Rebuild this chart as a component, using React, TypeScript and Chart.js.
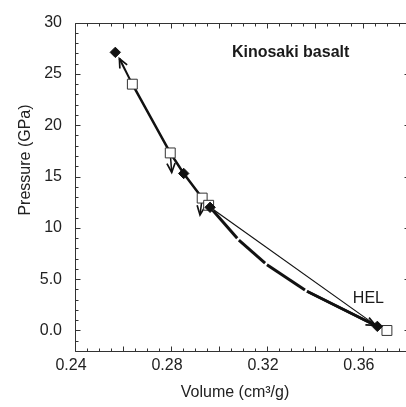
import React, { useEffect, useRef } from "react";
import { Chart, registerables } from "chart.js";

Chart.register(...registerables);

// Markers
const diamondV = [0.2568, 0.2853, 0.2963, 0.366];
const diamondP = [27.1, 15.3, 12.0, 0.4];
const squareV = [0.2639, 0.2797, 0.293, 0.2957, 0.37];
const squareP = [24.0, 17.3, 12.9, 12.2, 0.0];

// Thick solid path
const pathV = [0.2639, 0.2797, 0.2853, 0.293];
const pathP = [24.0, 17.3, 15.3, 12.9];

// Thick broken curve (release path)
const curveV = [0.2963, 0.3083, 0.32, 0.3367, 0.366];
const curveP = [12.0, 8.8, 6.4, 3.82, 0.4];

// Thin straight line
const thinV = [0.2963, 0.366];
const thinP = [12.0, 0.4];

// Arrows
const arrowFromV = [0.2639, 0.2797, 0.293, 0.3367];
const arrowFromP = [24.0, 17.3, 12.9, 3.82];
const arrowToV = [0.2585, 0.2803, 0.2921, 0.3652];
const arrowToP = [26.5, 15.4, 11.26, 0.5];
const arrowWidth = [2, 1.5, 1.5, 2.5];

// Annotations
const annotTexts = ["Kinosaki basalt", "HEL"];
const annotV = [0.3054, 0.3558];
const annotP = [27.1, 3.15];
const annotBold = [true, false];

// Ticks
const xTickValues = [0.24, 0.28, 0.32, 0.36];
const xTickLabels = ["0.24", "0.28", "0.32", "0.36"];
const yTickValues = [0, 5, 10, 15, 20, 25, 30];
const yTickLabels = ["0.0", "5.0", "10", "15", "20", "25", "30"];

const xTitle = "Volume (cm³/g)";
const yTitle = "Pressure (GPa)";

const FONT = "'Liberation Sans', Arial, Helvetica, sans-serif";
const INK = "#111";

const toPts = (vs: number[], ps: number[]) => vs.map((v, i) => ({ x: v, y: ps[i] }));

const decor = {
  id: "decor",
  beforeDatasetsDraw(chart: any) {
    const { ctx, scales } = chart;
    const { x, y } = scales;
    ctx.save();
    ctx.strokeStyle = INK;
    ctx.lineCap = "butt";
    ctx.lineJoin = "miter";
    for (let i = 0; i < arrowFromV.length; i++) {
      const x0 = x.getPixelForValue(arrowFromV[i]);
      const y0 = y.getPixelForValue(arrowFromP[i]);
      const x1 = x.getPixelForValue(arrowToV[i]);
      const y1 = y.getPixelForValue(arrowToP[i]);
      ctx.lineWidth = arrowWidth[i];
      ctx.beginPath();
      ctx.moveTo(x0, y0);
      ctx.lineTo(x1, y1);
      ctx.stroke();
      const ang = Math.atan2(y1 - y0, x1 - x0);
      const L = 10;
      const a = 0.42;
      ctx.lineWidth = 1.7;
      ctx.beginPath();
      ctx.moveTo(x1 - L * Math.cos(ang - a), y1 - L * Math.sin(ang - a));
      ctx.lineTo(x1, y1);
      ctx.lineTo(x1 - L * Math.cos(ang + a), y1 - L * Math.sin(ang + a));
      ctx.stroke();
    }
    ctx.restore();
  },
  afterDraw(chart: any) {
    const { ctx, chartArea, scales } = chart;
    const { left, right, top, bottom } = chartArea;
    const { x, y } = scales;
    ctx.save();
    ctx.strokeStyle = "#333";
    ctx.lineWidth = 1;
    const L = Math.round(left) + 0.5;
    const R = Math.round(right) + 0.5;
    const T = Math.round(top) + 0.5;
    const B = Math.round(bottom) + 0.5;
    ctx.beginPath();
    ctx.moveTo(L, T);
    ctx.lineTo(R, T);
    ctx.lineTo(R, B);
    ctx.lineTo(L, B);
    ctx.closePath();
    ctx.stroke();
    // x ticks (inward, top and bottom)
    ctx.beginPath();
    for (let k = 0; ; k++) {
      const v = 0.24 + k * 0.005;
      if (v > x.max + 1e-9) break;
      const px = Math.round(x.getPixelForValue(v)) + 0.5;
      const len = k % 4 === 0 ? 5 : 3;
      ctx.moveTo(px, B);
      ctx.lineTo(px, B - len);
      ctx.moveTo(px, T);
      ctx.lineTo(px, T + len);
    }
    for (let v = -2; v <= 30; v++) {
      const py = Math.round(y.getPixelForValue(v)) + 0.5;
      const len = v % 5 === 0 ? 5 : 3;
      ctx.moveTo(L, py);
      ctx.lineTo(L + len, py);
      ctx.moveTo(R, py);
      ctx.lineTo(R - len, py);
    }
    ctx.stroke();

    // annotations
    ctx.fillStyle = "#1a1a1a";
    ctx.textBaseline = "middle";
    ctx.textAlign = "left";
    for (let i = 0; i < annotTexts.length; i++) {
      ctx.font = `${annotBold[i] ? "bold " : ""}16px ${FONT}`;
      ctx.fillText(annotTexts[i], x.getPixelForValue(annotV[i]), y.getPixelForValue(annotP[i]));
    }

    // axis titles
    ctx.font = `16px ${FONT}`;
    ctx.textAlign = "center";
    ctx.fillStyle = "#222";
    ctx.fillText(xTitle, 235, 393);
    ctx.save();
    ctx.translate(26, 160);
    ctx.rotate(-Math.PI / 2);
    ctx.fillText(yTitle, 0, 0);
    ctx.restore();
    ctx.restore();
  },
};

export default function App() {
  const ref = useRef<HTMLCanvasElement | null>(null);
  useEffect(() => {
    if (!ref.current) return;
    const chart = new Chart(ref.current, {
      type: "scatter",
      data: {
        datasets: [
          {
            data: toPts(diamondV, diamondP),
            pointStyle: "rectRot",
            pointRadius: 5.2,
            pointBackgroundColor: INK,
            pointBorderColor: INK,
            pointBorderWidth: 1,
            showLine: false,
          },
          {
            data: toPts(squareV, squareP),
            pointStyle: "rect",
            pointRadius: 7,
            pointBackgroundColor: "#fff",
            pointBorderColor: "#333",
            pointBorderWidth: 1,
            showLine: false,
          },
          {
            data: toPts(pathV, pathP),
            showLine: true,
            borderColor: INK,
            borderWidth: 2.5,
            pointRadius: 0,
          },
          {
            data: toPts(curveV, curveP),
            showLine: true,
            borderColor: INK,
            borderWidth: 3,
            borderCapStyle: "butt",
            pointRadius: 0,
            segment: {
              borderDash: (c: any) => {
                const len = Math.hypot(c.p1.x - c.p0.x, c.p1.y - c.p0.y);
                return [Math.max(len - 2.5, 1), 20];
              },
            },
          },
          {
            data: toPts(thinV, thinP),
            showLine: true,
            borderColor: INK,
            borderWidth: 1.2,
            pointRadius: 0,
          },
        ],
      },
      options: {
        responsive: false,
        animation: false,
        events: [],
        layout: { padding: { top: 16, right: 11, left: 0, bottom: 0 } },
        plugins: { legend: { display: false }, tooltip: { enabled: false } },
        scales: {
          x: {
            type: "linear",
            min: 0.24,
            max: 0.3792,
            grid: { display: false, drawTicks: false },
            border: { display: false },
            afterBuildTicks: (s: any) => {
              s.ticks = xTickValues.map((v) => ({ value: v }));
            },
            afterFit: (s: any) => {
              s.height = 56;
            },
            ticks: {
              callback: (v: any) => xTickLabels[xTickValues.indexOf(v)] ?? "",
              font: { family: FONT, size: 16 },
              color: "#222",
              padding: 5,
              labelOffset: -4,
              maxRotation: 0,
              autoSkip: false,
            },
          },
          y: {
            type: "linear",
            min: -2,
            max: 30,
            grid: { display: false, drawTicks: false },
            border: { display: false },
            afterBuildTicks: (s: any) => {
              s.ticks = yTickValues.map((v) => ({ value: v }));
            },
            afterFit: (s: any) => {
              s.width = 75;
            },
            ticks: {
              callback: (v: any) => yTickLabels[yTickValues.indexOf(v)] ?? "",
              font: { family: FONT, size: 16 },
              color: "#222",
              padding: 13,
              autoSkip: false,
            },
          },
        },
      },
      plugins: [decor],
    });
    return () => chart.destroy();
  }, []);
  return (
    <div
      style={{
        position: "fixed",
        left: 0,
        top: 0,
        width: 406,
        height: 407,
        overflow: "hidden",
        background: "#fff",
      }}
    >
      <canvas ref={ref} width={420} height={407} style={{ display: "block" }} />
    </div>
  );
}
